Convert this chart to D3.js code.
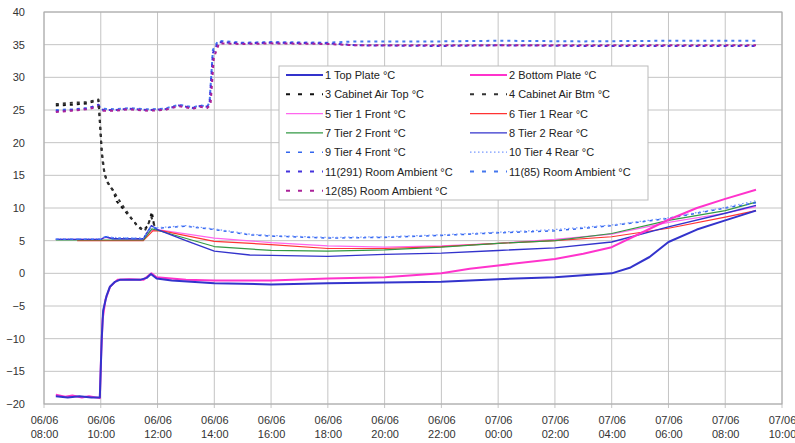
<!DOCTYPE html>
<html lang="en">
<head>
<meta charset="UTF-8">
<title>Temperature log</title>
<script src="https://d3js.org/d3.v7.min.js"></script>
<style>
	body { margin: 0; background: #fff; }
	text { font-family: "Liberation Sans", Arial, sans-serif; font-size: 11px; fill: #333; }
	.grid line { stroke: #c4c4c4; stroke-width: 1; }
	.axis path, .axis line { display: none; }
	.line { fill: none; stroke-linejoin: round; }
</style>
</head>
<body>
<script>
// ---- data (time "dd/mm HH:MM", value °C) ----
var topPlate = [["06/06 08:25",-18.8],["06/06 08:50",-19.0],["06/06 09:15",-18.8],["06/06 09:40",-19.0],["06/06 09:58",-19.0],["06/06 10:02",-10],["06/06 10:05",-5.7],["06/06 10:12",-3.5],["06/06 10:19",-2.1],["06/06 10:30",-1.3],["06/06 10:40",-1.0],["06/06 11:00",-1.0],["06/06 11:23",-1.0],["06/06 11:37",-0.7],["06/06 11:46",-0.1],["06/06 11:58",-0.8],["06/06 12:30",-1.1],["06/06 14:00",-1.5],["06/06 16:00",-1.7],["06/06 18:00",-1.5],["06/06 20:00",-1.4],["06/06 22:00",-1.3],["07/06 00:00",-0.9],["07/06 02:00",-0.6],["07/06 04:00",0.0],["07/06 04:40",0.9],["07/06 05:20",2.5],["07/06 06:00",4.8],["07/06 07:00",6.7],["07/06 08:00",8.1],["07/06 09:05",9.6]];
var bottomPlate = [["06/06 08:25",-18.6],["06/06 08:45",-18.9],["06/06 09:00",-18.7],["06/06 09:20",-19.0],["06/06 09:35",-18.8],["06/06 09:58",-19.1],["06/06 10:01",-12],["06/06 10:04",-7],["06/06 10:10",-4],["06/06 10:20",-2],["06/06 10:35",-1.0],["06/06 11:00",-0.9],["06/06 11:30",-1.0],["06/06 11:47",0.0],["06/06 11:58",-0.6],["06/06 13:00",-1.0],["06/06 14:00",-1.1],["06/06 16:00",-1.1],["06/06 18:00",-0.8],["06/06 20:00",-0.6],["06/06 22:00",0.0],["06/06 23:00",0.7],["07/06 00:00",1.2],["07/06 02:00",2.2],["07/06 03:00",3.0],["07/06 04:00",4.0],["07/06 05:00",6.1],["07/06 06:00",8.2],["07/06 07:00",10.0],["07/06 08:00",11.4],["07/06 09:05",12.8]];
var cabinetTop = [["06/06 08:25",25.7],["06/06 09:00",25.8],["06/06 09:30",26.0],["06/06 09:55",26.5],["06/06 09:58",23.5],["06/06 10:02",18.8],["06/06 10:07",15.8],["06/06 10:12",14.2],["06/06 10:26",12.7],["06/06 10:34",11.0],["06/06 10:55",9.2],["06/06 11:16",7.4],["06/06 11:30",6.6],["06/06 11:40",7.3],["06/06 11:48",9.4],["06/06 11:53",7.2]];
var cabinetBtm = [["06/06 08:25",25.9],["06/06 09:00",26.1],["06/06 09:30",26.2],["06/06 09:55",26.6],["06/06 09:59",22],["06/06 10:03",17.5],["06/06 10:08",15.2],["06/06 10:15",13.8],["06/06 10:30",12.2],["06/06 10:45",10.5],["06/06 11:00",8.9],["06/06 11:20",7.0],["06/06 11:33",6.5],["06/06 11:42",7.8],["06/06 11:47",8.6],["06/06 11:55",7.0]];
var tier1Front = [["06/06 08:25",5.2],["06/06 10:00",5.2],["06/06 10:10",5.5],["06/06 10:30",5.3],["06/06 11:30",5.2],["06/06 11:45",6.5],["06/06 12:00",6.7],["06/06 14:00",5.4],["06/06 16:00",4.7],["06/06 18:00",4.2],["06/06 20:00",4.0],["06/06 22:00",4.2],["07/06 00:00",4.6],["07/06 02:00",5.2],["07/06 04:00",6.0],["07/06 06:00",7.8],["07/06 08:00",9.2],["07/06 09:05",10.2]];
var tier1Rear = [["06/06 09:10",5.0],["06/06 11:30",5.0],["06/06 11:50",6.5],["06/06 12:10",6.5],["06/06 14:00",4.9],["06/06 16:00",4.4],["06/06 18:00",3.8],["06/06 20:00",3.8],["06/06 22:00",4.1],["07/06 00:00",4.6],["07/06 02:00",5.0],["07/06 04:00",5.6],["07/06 06:00",6.9],["07/06 08:00",8.6],["07/06 09:05",9.6]];
var tier2Front = [["06/06 08:25",5.1],["06/06 11:30",5.1],["06/06 11:48",6.8],["06/06 12:00",6.6],["06/06 14:00",4.1],["06/06 16:00",3.5],["06/06 18:00",3.4],["06/06 20:00",3.6],["06/06 22:00",4.0],["07/06 00:00",4.6],["07/06 02:00",5.0],["07/06 04:00",6.1],["07/06 06:00",8.1],["07/06 08:00",9.6],["07/06 09:05",10.9]];
var tier2Rear = [["06/06 08:25",5.2],["06/06 10:00",5.2],["06/06 10:10",5.6],["06/06 10:25",5.3],["06/06 11:30",5.3],["06/06 11:47",7.3],["06/06 12:00",6.7],["06/06 13:00",5.0],["06/06 14:00",3.4],["06/06 15:15",2.8],["06/06 16:00",2.75],["06/06 18:00",2.6],["06/06 20:00",2.9],["06/06 22:00",3.1],["07/06 00:00",3.5],["07/06 02:00",3.9],["07/06 04:00",4.8],["07/06 06:00",7.1],["07/06 08:00",9.2],["07/06 09:05",10.4]];
var tier4Front = [["06/06 08:25",5.2],["06/06 10:00",5.2],["06/06 10:10",5.6],["06/06 10:25",5.4],["06/06 11:30",5.3],["06/06 11:45",7.0],["06/06 12:00",6.9],["06/06 13:00",7.2],["06/06 14:00",6.7],["06/06 15:15",5.9],["06/06 16:00",5.7],["06/06 18:00",5.4],["06/06 20:00",5.5],["06/06 22:00",5.8],["07/06 00:00",6.2],["07/06 02:00",6.5],["07/06 04:00",7.3],["07/06 06:00",8.4],["07/06 08:00",10.0],["07/06 09:05",10.8]];
var tier4Rear = [["06/06 08:25",5.3],["06/06 10:00",5.3],["06/06 10:10",5.7],["06/06 10:25",5.5],["06/06 11:30",5.4],["06/06 11:45",7.1],["06/06 12:00",7.0],["06/06 13:00",7.3],["06/06 14:00",6.8],["06/06 15:15",6.0],["06/06 16:00",5.8],["06/06 18:00",5.5],["06/06 20:00",5.6],["06/06 22:00",5.9],["07/06 00:00",6.3],["07/06 02:00",6.7],["07/06 04:00",7.4],["07/06 06:00",8.5],["07/06 08:00",10.1],["07/06 09:05",11.1]];
var room291 = [["06/06 08:25",24.8],["06/06 09:00",25.0],["06/06 09:30",25.2],["06/06 09:55",25.8],["06/06 10:05",25.0],["06/06 10:30",25.0],["06/06 11:00",25.2],["06/06 11:40",25.0],["06/06 12:15",25.1],["06/06 12:45",25.7],["06/06 13:15",25.3],["06/06 13:30",25.6],["06/06 13:45",25.5],["06/06 13:50",26.0],["06/06 13:57",33.7],["06/06 14:08",35.4],["06/06 15:00",35.2],["06/06 16:00",35.3],["06/06 18:00",35.2],["06/06 19:00",34.9],["06/06 22:00",34.8],["07/06 00:00",34.9],["07/06 03:00",34.8],["07/06 06:00",34.8],["07/06 09:05",34.8]];
var room85 = [["06/06 08:25",25.0],["06/06 09:00",25.1],["06/06 09:30",25.3],["06/06 09:55",25.6],["06/06 10:05",25.2],["06/06 10:30",25.1],["06/06 11:00",25.3],["06/06 11:40",25.1],["06/06 12:15",25.2],["06/06 12:45",25.8],["06/06 13:15",25.4],["06/06 13:30",25.7],["06/06 13:45",25.5],["06/06 13:50",26.2],["06/06 13:57",34.2],["06/06 14:08",35.6],["06/06 15:00",35.3],["06/06 16:00",35.4],["06/06 18:00",35.3],["06/06 19:00",35.5],["06/06 22:00",35.5],["07/06 00:00",35.6],["07/06 03:00",35.5],["07/06 06:00",35.6],["07/06 09:05",35.6]];
var room12 = [["06/06 08:25",24.7],["06/06 09:00",24.9],["06/06 09:30",25.1],["06/06 09:55",25.5],["06/06 10:05",24.9],["06/06 10:30",24.9],["06/06 11:00",25.1],["06/06 11:40",24.9],["06/06 12:15",25.0],["06/06 12:45",25.6],["06/06 13:15",25.2],["06/06 13:30",25.5],["06/06 13:45",25.3],["06/06 13:52",25.8],["06/06 13:59",33.0],["06/06 14:10",35.2],["06/06 15:00",35.1],["06/06 16:00",35.2],["06/06 18:00",35.1],["06/06 19:00",34.9],["06/06 22:00",34.9],["07/06 00:00",34.9],["07/06 03:00",34.9],["07/06 06:00",34.9],["07/06 09:05",34.9]];

var yTicks = [40, 35, 30, 25, 20, 15, 10, 5, 0, -5, -10, -15, -20];

var series = [
	{name: "1 Top Plate °C", data: topPlate, color: "#3333cc", width: 2, dash: null},
	{name: "2 Bottom Plate °C", data: bottomPlate, color: "#ff33cc", width: 2, dash: null},
	{name: "3 Cabinet Air Top °C", data: cabinetTop, color: "#111", width: 2, dash: "3,4"},
	{name: "4 Cabinet  Air Btm °C", data: cabinetBtm, color: "#333", width: 2, dash: "3,4"},
	{name: "5 Tier 1 Front °C", data: tier1Front, color: "#ff66ee", width: 1.2, dash: null},
	{name: "6 Tier 1 Rear °C", data: tier1Rear, color: "#ff3333", width: 1.2, dash: null},
	{name: "7 Tier 2 Front °C", data: tier2Front, color: "#339944", width: 1.2, dash: null},
	{name: "8 Tier 2 Rear °C", data: tier2Rear, color: "#3333cc", width: 1.4, dash: null},
	{name: "9 Tier 4 Front °C", data: tier4Front, color: "#3366ee", width: 1.5, dash: "3,4"},
	{name: "10 Tier 4 Rear °C", data: tier4Rear, color: "#7799ff", width: 1.2, dash: "1.5,2.5"},
	{name: "11(291) Room Ambient °C", data: room291, color: "#4433dd", width: 2, dash: "3,4"},
	{name: "11(85) Room Ambient °C", data: room85, color: "#4477ee", width: 2, dash: "3,4"},
	{name: "12(85) Room Ambient °C", data: room12, color: "#aa2299", width: 2, dash: "3,4"}
];

var W = 795, H = 443;
var margin = {top: 12, right: 13, bottom: 39, left: 44};
var width = W - margin.left - margin.right,
	height = H - margin.top - margin.bottom;

var parse = d3.timeParse("%d/%m %H:%M");

var svg = d3.select("body").append("svg")
	.attr("width", W)
	.attr("height", H)
	.append("g")
	.attr("transform", "translate(" + margin.left + "," + margin.top + ")");

var x = d3.scaleTime()
	.domain([parse("06/06 08:00"), parse("07/06 10:00")])
	.range([0, width]);
var y = d3.scaleLinear()
	.domain([-20, 40])
	.range([height, 0]);

var xTicks = d3.timeHour.every(2).range(x.domain()[0], d3.timeMinute.offset(x.domain()[1], 1));

// grid
svg.append("g").attr("class", "grid")
	.selectAll("line.h").data(yTicks).enter().append("line")
	.attr("x1", 0).attr("x2", width)
	.attr("y1", function (d) { return y(d); })
	.attr("y2", function (d) { return y(d); });
svg.append("g").attr("class", "grid")
	.selectAll("line.v").data(xTicks).enter().append("line")
	.attr("y1", 0).attr("y2", height + 4)
	.attr("x1", function (d) { return x(d); })
	.attr("x2", function (d) { return x(d); });
svg.append("rect")
	.attr("width", width).attr("height", height)
	.attr("fill", "none").attr("stroke", "#aaa");

// axes
svg.append("g").attr("class", "axis axis--y")
	.attr("transform", "translate(-7,0)")
	.call(d3.axisLeft(y).tickValues(yTicks).tickSize(0).tickPadding(12));

var xAxis = svg.append("g").attr("class", "axis axis--x")
	.attr("transform", "translate(0," + height + ")")
	.call(d3.axisBottom(x).tickValues(xTicks).tickSize(0).tickFormat(""));
xAxis.selectAll(".tick").each(function (d) {
	var t = d3.select(this).append("text").attr("text-anchor", "middle").style("fill", "#333");
	t.append("tspan").attr("x", 0).attr("y", 20).text(d3.timeFormat("%d/%m")(d));
	t.append("tspan").attr("x", 0).attr("y", 34).text(d3.timeFormat("%H:%M")(d));
});

// lines
var line = d3.line()
	.x(function (d) { return x(parse(d[0])); })
	.y(function (d) { return y(d[1]); });

var drawOrder = [11, 10, 12, 2, 3, 4, 5, 6, 7, 8, 9, 1, 0];
drawOrder.forEach(function (i) {
	var s = series[i];
	svg.append("path")
		.datum(s.data)
		.attr("class", "line")
		.attr("d", line)
		.attr("stroke", s.color)
		.attr("stroke-width", s.width)
		.attr("stroke-dasharray", s.dash);
});

// legend
var legend = svg.append("g").attr("transform", "translate(235,54)");
legend.append("rect")
	.attr("width", 369).attr("height", 134)
	.attr("fill", "#fff").attr("stroke", "#bbb");
var item = legend.selectAll(".item").data(series).enter().append("g")
	.attr("transform", function (d, i) {
		return "translate(" + (i % 2 ? 191 : 7) + "," + (9 + Math.floor(i / 2) * 19.3) + ")";
	});
item.append("line")
	.attr("x1", 0).attr("x2", 37)
	.attr("stroke", function (d) { return d.color; })
	.attr("stroke-width", function (d) { return d.width; })
	.attr("stroke-dasharray", function (d) { return d.dash ? (d.dash === "1.5,2.5" ? d.dash : "4,8") : null; });
item.append("text")
	.attr("x", 39).attr("y", 4)
	.style("fill", "#222")
	.text(function (d) { return d.name; });
</script>
</body>
</html>
